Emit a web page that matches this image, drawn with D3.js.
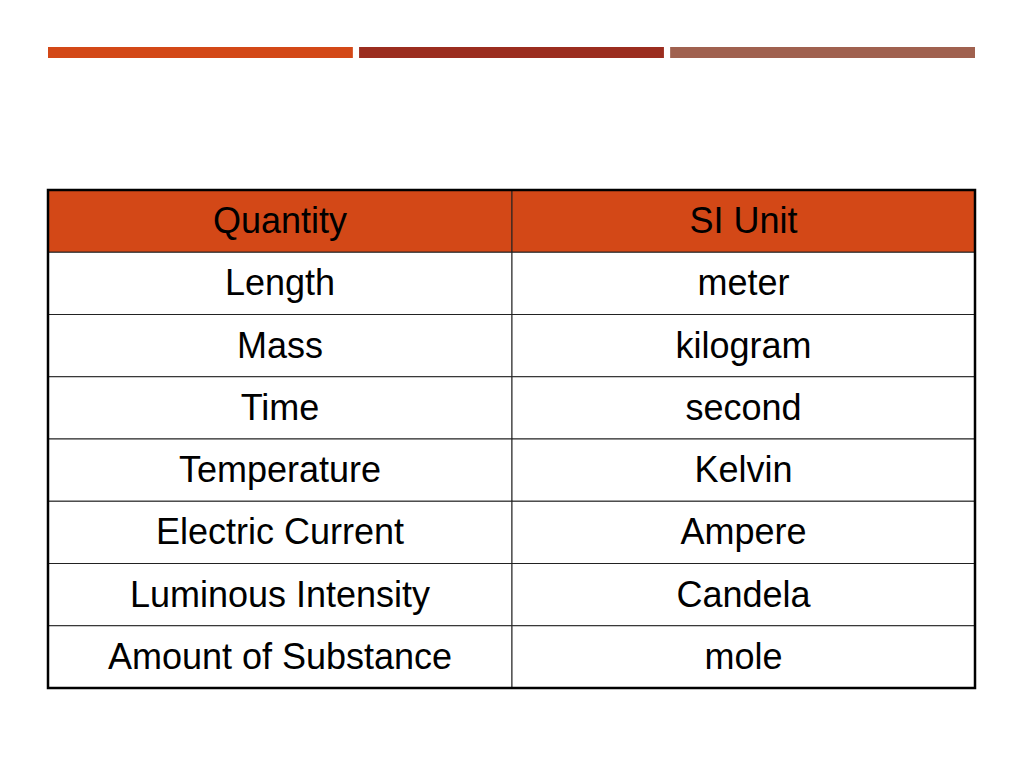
<!DOCTYPE html>
<html><head><meta charset="utf-8">
<script src="https://cdn.jsdelivr.net/npm/d3@7"></script>
<style>body{margin:0;background:#fff}</style>
</head><body>
<script>
const header = ["Quantity", "SI Unit"];
const quantities = ["Length","Mass","Time","Temperature","Electric Current","Luminous Intensity","Amount of Substance"];
const units = ["meter","kilogram","second","Kelvin","Ampere","Candela","mole"];
const barColors = ["#D34817","#9B2D1F","#A0614F"];

const svg = d3.select("body").append("svg").attr("width",1024).attr("height",767);
const bx = d3.scaleBand().domain(d3.range(3)).range([48,975]).paddingInner(0.02);
svg.selectAll("rect.bar").data(barColors).join("rect")
  .attr("x",(d,i)=>bx(i)).attr("y",47).attr("width",bx.bandwidth()).attr("height",11).attr("fill",d=>d);

const rows = [header].concat(quantities.map((q,i)=>[q,units[i]]));
const y = d3.scaleBand().domain(d3.range(rows.length)).range([190,688]);
const x = d3.scaleOrdinal().domain([0,1]).range([48,512]);
const xEnd = [512,975];
const g = svg.append("g");
rows.forEach((r,i)=>{
  r.forEach((t,j)=>{
    g.append("rect").attr("x",x(j)).attr("y",y(i)).attr("width",xEnd[j]-x(j)).attr("height",y.bandwidth())
      .attr("fill", i===0?"#D34817":"#fff").attr("stroke","#222").attr("stroke-width",1);
    g.append("text").attr("x",(x(j)+xEnd[j])/2).attr("y",y(i)+y.bandwidth()/2+12)
      .attr("text-anchor","middle").attr("font-family","Liberation Sans, Arial").attr("font-size",36)
      .attr("fill","#000").text(t);
  });
});
svg.append("rect").attr("x",48).attr("y",190).attr("width",927).attr("height",498)
  .attr("fill","none").attr("stroke","#000").attr("stroke-width",2.5);
</script>
</body></html>
